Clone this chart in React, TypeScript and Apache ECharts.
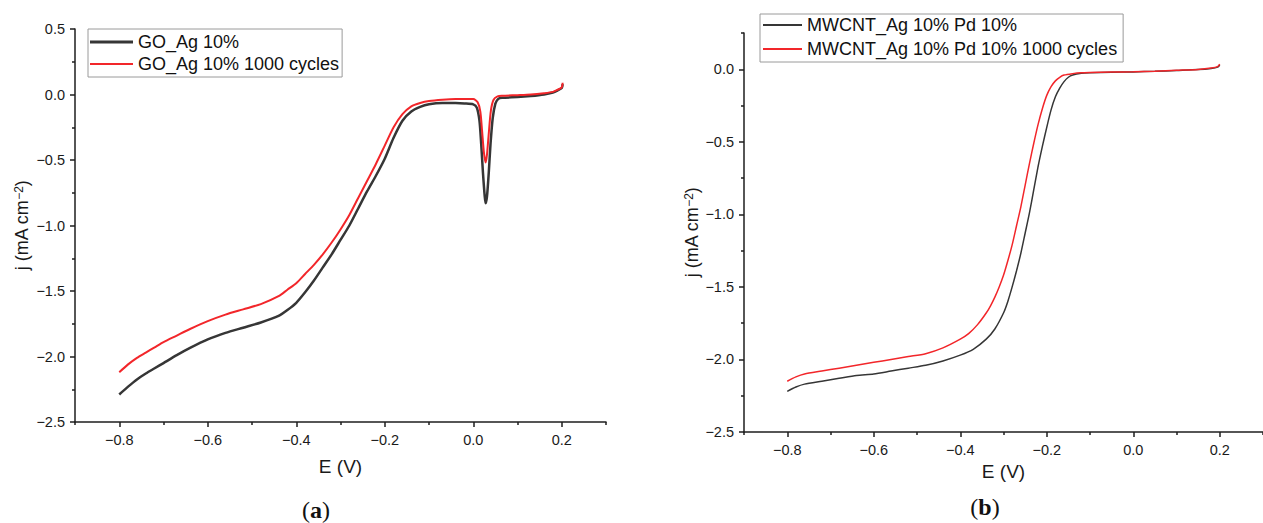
import React, { useEffect, useRef } from "react";
import * as echarts from "echarts";

// ---------- tick values ----------
const xMajorTicks = [-0.8, -0.6, -0.4, -0.2, 0.0, 0.2];
const xMinorTicks = [-0.9, -0.7, -0.5, -0.3, -0.1, 0.1, 0.3];
const yMajorTicksA = [-2.5, -2.0, -1.5, -1.0, -0.5, 0.0, 0.5];
const yMinorTicksA = [-2.25, -1.75, -1.25, -0.75, -0.25, 0.25];
const yMajorTicksB = [-2.5, -2.0, -1.5, -1.0, -0.5, 0.0];
const yMinorTicksB = [-2.25, -1.75, -1.25, -0.75, -0.25, 0.25];

// ---------- panel (a) ----------
const legendA = ["GO_Ag 10%", "GO_Ag 10% 1000 cycles"];
const eA1 = [-0.80, -0.78, -0.76, -0.74, -0.72, -0.70, -0.67, -0.64, -0.60, -0.56, -0.52, -0.48, -0.44, -0.42, -0.40, -0.38, -0.36, -0.34, -0.32, -0.30, -0.28, -0.26, -0.24, -0.22, -0.20, -0.18, -0.16, -0.14, -0.12, -0.10, -0.07, -0.04, -0.02, 0.000, 0.008, 0.014, 0.018, 0.022, 0.026, 0.028, 0.031, 0.035, 0.039, 0.044, 0.050, 0.056, 0.065, 0.10, 0.13, 0.16, 0.18, 0.19, 0.20, 0.202];
const jA1 = [-2.29, -2.23, -2.175, -2.13, -2.09, -2.05, -1.99, -1.935, -1.87, -1.82, -1.78, -1.74, -1.69, -1.645, -1.59, -1.51, -1.42, -1.32, -1.22, -1.11, -1.00, -0.87, -0.74, -0.62, -0.49, -0.33, -0.20, -0.13, -0.095, -0.075, -0.065, -0.065, -0.068, -0.075, -0.10, -0.20, -0.38, -0.60, -0.78, -0.83, -0.78, -0.60, -0.38, -0.18, -0.07, -0.035, -0.025, -0.02, -0.012, 0.0, 0.015, 0.03, 0.05, 0.08];
const eA2 = [-0.80, -0.78, -0.76, -0.74, -0.72, -0.70, -0.67, -0.64, -0.60, -0.56, -0.52, -0.48, -0.44, -0.42, -0.40, -0.38, -0.36, -0.34, -0.32, -0.30, -0.28, -0.26, -0.24, -0.22, -0.20, -0.18, -0.16, -0.14, -0.12, -0.10, -0.07, -0.04, -0.02, 0.000, 0.010, 0.016, 0.020, 0.024, 0.028, 0.031, 0.035, 0.040, 0.046, 0.055, 0.065, 0.10, 0.13, 0.16, 0.18, 0.19, 0.20, 0.202];
const jA2 = [-2.12, -2.06, -2.01, -1.97, -1.93, -1.89, -1.84, -1.79, -1.73, -1.68, -1.64, -1.60, -1.54, -1.49, -1.44, -1.37, -1.30, -1.22, -1.13, -1.03, -0.92, -0.79, -0.66, -0.53, -0.39, -0.25, -0.15, -0.09, -0.065, -0.05, -0.04, -0.035, -0.035, -0.035, -0.06, -0.13, -0.28, -0.44, -0.52, -0.46, -0.30, -0.12, -0.04, -0.015, -0.01, -0.005, 0.0, 0.01, 0.02, 0.035, 0.055, 0.09];

// ---------- panel (b) ----------
const legendB = ["MWCNT_Ag 10% Pd 10%", "MWCNT_Ag 10% Pd 10% 1000 cycles"];
const eB1 = [-0.80, -0.78, -0.76, -0.72, -0.68, -0.64, -0.60, -0.56, -0.52, -0.48, -0.44, -0.40, -0.37, -0.34, -0.32, -0.30, -0.29, -0.28, -0.27, -0.26, -0.25, -0.24, -0.23, -0.22, -0.21, -0.20, -0.19, -0.18, -0.17, -0.16, -0.15, -0.14, -0.12, -0.10, -0.05, 0.00, 0.05, 0.10, 0.15, 0.18, 0.195, 0.20];
const jB1 = [-2.22, -2.19, -2.17, -2.15, -2.13, -2.11, -2.10, -2.08, -2.06, -2.04, -2.01, -1.97, -1.93, -1.86, -1.79, -1.68, -1.60, -1.50, -1.39, -1.27, -1.13, -0.99, -0.83, -0.67, -0.53, -0.40, -0.28, -0.19, -0.13, -0.085, -0.055, -0.04, -0.028, -0.024, -0.02, -0.018, -0.014, -0.008, -0.002, 0.006, 0.015, 0.03];
const eB2 = [-0.80, -0.78, -0.76, -0.72, -0.68, -0.64, -0.60, -0.56, -0.52, -0.48, -0.44, -0.40, -0.38, -0.36, -0.34, -0.33, -0.32, -0.31, -0.30, -0.29, -0.28, -0.27, -0.26, -0.25, -0.24, -0.23, -0.22, -0.21, -0.20, -0.19, -0.18, -0.17, -0.16, -0.14, -0.12, -0.10, -0.05, 0.00, 0.05, 0.10, 0.15, 0.18, 0.195, 0.20];
const jB2 = [-2.15, -2.12, -2.10, -2.08, -2.06, -2.04, -2.02, -2.00, -1.98, -1.96, -1.92, -1.86, -1.82, -1.76, -1.68, -1.63, -1.57, -1.50, -1.42, -1.32, -1.21, -1.08, -0.95, -0.80, -0.65, -0.51, -0.38, -0.27, -0.18, -0.12, -0.08, -0.055, -0.04, -0.03, -0.024, -0.022, -0.019, -0.017, -0.013, -0.007, -0.001, 0.008, 0.018, 0.035];

const zip = (xs: number[], ys: number[]) => xs.map((x, i) => [x, ys[i]]);
const fmt = (v: number) => v.toFixed(1).replace("-", "\u2212");

const FONT = "Liberation Sans, Arial, sans-serif";
const AXIS_COLOR = "#1e1e1e";
const BLACK = "#363636";
const RED = "#f2262a";

function majorX(grid: number) {
  return {
    type: "value", gridIndex: grid, min: -0.9, max: 0.3, position: "bottom",
    name: "E (V)", nameLocation: "middle", nameGap: grid === 0 ? 35 : 29,
    nameTextStyle: { fontFamily: FONT, fontSize: 19, color: "#1a1a1a" },
    axisLine: { show: true, onZero: false, lineStyle: { color: AXIS_COLOR, width: 1.5 } },
    axisTick: { show: true, inside: false, length: 5, customValues: xMajorTicks, lineStyle: { color: AXIS_COLOR, width: 1.5 } },
    axisLabel: { show: true, customValues: xMajorTicks, formatter: fmt, margin: 10, fontFamily: FONT, fontSize: 14.5, color: "#1a1a1a" },
    splitLine: { show: false },
  };
}
function minorX(grid: number) {
  return {
    type: "value", gridIndex: grid, min: -0.9, max: 0.3, position: "bottom",
    axisLine: { show: false, onZero: false },
    axisTick: { show: true, length: 3, customValues: xMinorTicks, lineStyle: { color: AXIS_COLOR, width: 1.5 } },
    axisLabel: { show: false },
    splitLine: { show: false },
  };
}
function majorY(grid: number, max: number, ticks: number[]) {
  return {
    type: "value", gridIndex: grid, min: -2.5, max, position: "left",
    name: "{n|j (mA cm}{s|\u22122}{n|)}", nameLocation: "middle", nameGap: grid === 0 ? 44 : 43, nameRotate: 90,
    nameTextStyle: {
      fontFamily: FONT, fontSize: 18, color: "#1a1a1a",
      rich: {
        n: { fontFamily: FONT, fontSize: 18, color: "#1a1a1a" },
        s: { fontFamily: FONT, fontSize: 12, color: "#1a1a1a", verticalAlign: "top" },
      },
    },
    axisLine: { show: true, onZero: false, lineStyle: { color: AXIS_COLOR, width: 1.5 } },
    axisTick: { show: true, length: 5, customValues: ticks, lineStyle: { color: AXIS_COLOR, width: 1.5 } },
    axisLabel: { show: true, customValues: ticks, formatter: fmt, margin: 10, fontFamily: FONT, fontSize: 14.5, color: "#1a1a1a" },
    splitLine: { show: false },
  };
}
function minorY(grid: number, max: number, ticks: number[]) {
  return {
    type: "value", gridIndex: grid, min: -2.5, max, position: "left",
    axisLine: { show: false, onZero: false },
    axisTick: { show: true, length: 3, customValues: ticks, lineStyle: { color: AXIS_COLOR, width: 1.5 } },
    axisLabel: { show: false },
    splitLine: { show: false },
  };
}

function line(name: string, xi: number, yi: number, data: number[][], color: string, width: number) {
  return {
    type: "line", name, xAxisIndex: xi, yAxisIndex: yi, data,
    symbol: "none", showSymbol: false, smooth: 0.25,
    lineStyle: { color, width }, itemStyle: { color },
  };
}

export default function App() {
  const ref = useRef<HTMLDivElement>(null);
  useEffect(() => {
    document.body.style.margin = "0";
    const chart = echarts.init(ref.current!, undefined, { renderer: "svg" });
    chart.setOption({
      animation: false,
      backgroundColor: "#ffffff",
      grid: [
        { left: 75, top: 29, width: 531, height: 393 },
        { left: 744, top: 33, width: 528, height: 399 },
      ],
      xAxis: [majorX(0), minorX(0), majorX(1), minorX(1)],
      yAxis: [
        majorY(0, 0.5, yMajorTicksA), minorY(0, 0.5, yMinorTicksA),
        majorY(1, 0.25, yMajorTicksB), minorY(1, 0.25, yMinorTicksB),
      ],
      legend: [
        {
          data: [
            { name: legendA[0], icon: "path://M0,0h43v3h-43z" },
            { name: legendA[1], icon: "path://M0,0h43v2h-43z" },
          ],
          orient: "vertical", left: 88, top: 29, itemWidth: 43, itemHeight: 14, itemGap: 4,
          padding: [4, 3, 4, 2], borderColor: "#9a9a9a", borderWidth: 1, selectedMode: false,
          textStyle: { fontFamily: FONT, fontSize: 18, color: "#111" },
        },
        {
          data: [
            { name: legendB[0], icon: "path://M0,0h39v2h-39z" },
            { name: legendB[1], icon: "path://M0,0h39v2h-39z" },
          ],
          orient: "vertical", left: 760, top: 14, itemWidth: 39, itemHeight: 14, itemGap: 6,
          padding: [2, 6, 4, 3], borderColor: "#9a9a9a", borderWidth: 1, selectedMode: false,
          textStyle: { fontFamily: FONT, fontSize: 18, color: "#111" },
        },
      ],
      series: [
        line(legendA[0], 0, 0, zip(eA1, jA1), BLACK, 2.5),
        line(legendA[1], 0, 0, zip(eA2, jA2), RED, 2),
        line(legendB[0], 2, 2, zip(eB1, jB1), BLACK, 1.5),
        line(legendB[1], 2, 2, zip(eB2, jB2), RED, 1.5),
      ],
      graphic: [
        {
          type: "text", x: 316, y: 510,
          style: {
            text: "{n|(}{b|a}{n|)}", textAlign: "center", textVerticalAlign: "middle",
            rich: {
              n: { fontFamily: "Liberation Serif, serif", fontSize: 24, fill: "#111" },
              b: { fontFamily: "Liberation Serif, serif", fontSize: 24, fontWeight: "bold", fill: "#111" },
            },
          },
        },
        {
          type: "text", x: 985, y: 507,
          style: {
            text: "{n|(}{b|b}{n|)}", textAlign: "center", textVerticalAlign: "middle",
            rich: {
              n: { fontFamily: "Liberation Serif, serif", fontSize: 24, fill: "#111" },
              b: { fontFamily: "Liberation Serif, serif", fontSize: 24, fontWeight: "bold", fill: "#111" },
            },
          },
        },
      ],
    });
    return () => chart.dispose();
  }, []);
  return <div ref={ref} style={{ width: 1263, height: 523 }} />;
}
